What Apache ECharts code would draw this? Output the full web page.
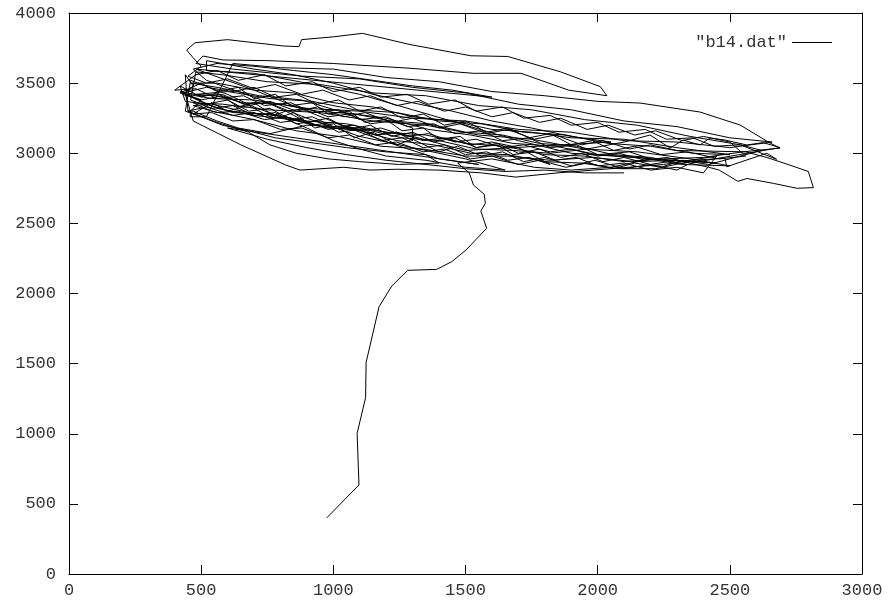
<!DOCTYPE html>
<html>
<head>
    <meta charset="utf-8">
    <title>b14.dat</title>
    <script src="https://cdn.jsdelivr.net/npm/echarts@6/dist/echarts.min.js"></script>
</head>
<body style="margin:0;background:#fff;">
    <div id="main" style="width: 890px;height:607px;"></div>
    <script type="text/javascript">
        // tick values of the two axes
        var xTicks = [0, 500, 1000, 1500, 2000, 2500, 3000];
        var yTicks = [0, 500, 1000, 1500, 2000, 2500, 3000, 3500, 4000];
        var seriesName = '"b14.dat"';

        // the track climbs up from the bottom...
        var tailPoints = [
            [975,400],[1097,635],[1090,1003],[1122,1257],[1124,1509],[1173,1906],[1221,2053],
            [1281,2165],[1391,2172],[1448,2227],[1502,2310],[1580,2465],[1558,2588],[1575,2643],
            [1571,2707],[1530,2774],[1514,2861]
        ];

        // ...then swings back and forth inside the band (roughly)
        var loopPoints = [
            [1470,2930],[1600,2960],[1760,2900],[1900,2880],[2050,2900],
            [2200,2960],[2120,3010],[2000,2990],[1920,3060],[1820,3040],[1740,3110],[1640,3090],[1560,3160],[1460,3140],[1380,3210],[1280,3190],[1200,3260],[1100,3240],[1020,3310],[920,3290],[840,3360],[740,3340],[660,3410],[560,3390],[480,3460],[400,3450],
            [480,3560],[560,3590],[640,3520],[740,3560],[820,3480],[920,3510],[1000,3440],[1100,3470],[1180,3400],[1280,3420],[1360,3350],[1460,3380],[1540,3300],[1640,3330],[1720,3250],[1820,3270],[1900,3200],[2000,3220],[2080,3150],[2180,3170],[2260,3100],[2360,3110],[2440,3050],[2540,3060],[2620,3020],
            [2500,2960],[2420,2920],[2320,2950],[2240,2900],[2140,2930],[2060,2890],[1960,2930],[1880,2900],[1780,2950],[1700,2920],[1600,2980],[1520,2960],[1420,3030],[1340,3010],[1240,3080],[1160,3060],[1060,3130],[980,3110],[880,3180],[800,3170],[700,3240],[620,3230],[540,3290],[470,3280],
            [540,3360],[600,3300],[680,3340],[760,3260],[820,3300],[900,3220],[980,3250],[1060,3170],[1140,3200],[1220,3120],[1300,3150],[1380,3080],[1460,3110],[1540,3040],[1620,3070],[1700,3000],[1780,3030],[1860,2970],[1940,3000],[2020,2940],[2100,2970],[2200,2920],[2300,2950],[2420,2900],
            [2460,2880],[2530,2800],[2565,2820],[2665,2785],[2755,2750],[2816,2755],[2797,2870],[2720,2920],[2640,2970],[2560,3010],
            [2300,3020],[2200,3060],[2120,3030],[2020,3090],[1940,3060],[1840,3130],[1760,3100],[1660,3170],[1580,3140],[1480,3210],[1400,3180],[1300,3250],[1220,3220],[1120,3290],[1040,3260],[940,3330],[860,3300],[760,3370],[680,3340],[580,3410],[500,3380],[430,3430],
            [520,3470],[620,3440],[700,3470],[780,3400],[860,3420],[940,3350],[1020,3380],[1100,3300],[1180,3330],[1260,3250],[1340,3280],[1420,3200],[1500,3230],[1580,3150],[1660,3180],[1740,3110],[1820,3140],[1900,3060],[1980,3090],[2060,3020],[2140,3050],[2240,2990],[2340,3010],[2460,2960],[2560,2980],
            [2500,3080],[2400,3120],[2320,3090],[2220,3160],[2140,3130],[2040,3200],[1960,3170],[1860,3250],[1780,3220],[1680,3290],[1600,3260],[1500,3330],[1420,3300],[1320,3370],[1240,3340],[1140,3410],[1060,3380],[960,3450],[880,3420],[780,3490],[700,3460],[600,3530],[520,3500],[450,3550],
            [500,3620],[470,3680],[445,3736],[477,3788],[600,3810],[810,3765],[870,3760],[880,3810],[1000,3830],[1110,3855],[1290,3775],[1520,3695],[1660,3690],
            [1860,3580],[2010,3475],[2035,3410],[1890,3450],[1710,3570],[1530,3570],[1290,3606],[1000,3640],[760,3660],[583,3665],[507,3693],[480,3640],
            [620,3600],[880,3550],[1100,3530],[1300,3470],[1500,3430],[1700,3350],[1900,3310],[2100,3230],[2300,3190],[2500,3110],[2660,3080],
            [2500,3040],[2300,3080],[2100,3090],[1900,3150],[1700,3170],[1500,3230],[1300,3250],[1100,3300],[900,3320],[700,3380],[540,3390],[420,3430],
            [500,3500],[560,3440],[640,3470],[700,3390],[780,3420],[840,3340],[920,3360],[980,3280],[1060,3300],[1120,3220],[1200,3240],[1260,3160],[1340,3180],[1400,3100],[1480,3120],[1540,3040],[1620,3060],[1680,2990],[1760,3010],[1840,2950],[1920,2970],[2000,2910],[2100,2930],[2200,2880],[2300,2900],[2400,2860],
            [2450,2980],[2250,2920],[2050,2890],[1850,2860],[1690,2830],[1560,2860],[1400,2880],[1240,2886],[1139,2880],[1040,2900],[874,2880],[820,2916],[650,3060],[470,3230],
            [440,3420],[520,3350],[600,3380],[680,3300],[760,3320],[840,3240],[920,3260],[1000,3190],[1080,3200],[1160,3130],[1240,3150],[1300,3090],
            [1300,3180],[1220,3230],[1140,3210],[1060,3280],[980,3260],[900,3320],[820,3300],[740,3370],[660,3350],[580,3420],[500,3410],[420,3440],
            [560,3320],[700,3270],[840,3240],[980,3180],[1120,3170],[1260,3110],[1400,3090],[1540,3030],[1680,3020],[1820,3000],[1960,3030],[2100,3080],[2198,3130],[2274,3037],[2323,3094],[2387,3059],[2425,3109],[2482,3094],[2564,3059],[2626,3076],[2690,3040],
            [2350,2930],[2260,2970],[2180,2950],[2080,3000],[2000,2980],[1900,3030],[1820,3010],[1720,3060],[1640,3040],[1540,3100],[1460,3080],[1360,3140],[1280,3120],[1180,3180],[1100,3160],[1000,3220],[920,3200],[820,3260],[740,3240],[640,3300],[560,3290],[470,3340],
            [540,3350],[680,3290],[820,3260],[960,3190],[1100,3160],[1240,3090],[1380,3060],[1520,3000],[1660,2990],[1800,2940],[1940,2930],[2080,2890],[2220,2890],[2375,2952],[2482,2964],[2488,2904],[2640,3000],[2677,2957],
            [2540,3060],[2350,3120],[2150,3200],[1950,3240],[1750,3310],[1550,3340],[1350,3410],[1150,3430],[950,3490],[750,3510],[580,3560],[480,3580],
            [460,3380],[540,3320],[620,3340],[700,3270],[780,3290],[860,3210],[940,3230],[1020,3150],[1100,3170],[1180,3090],[1260,3110],[1340,3040],[1420,3060],[1500,2990],[1580,3010],[1660,2950],[1740,2970],[1820,2920],
            [1700,3040],[1600,3080],[1520,3060],[1420,3110],[1340,3090],[1240,3150],[1160,3130],[1060,3190],[980,3170],[880,3240],[800,3220],[700,3290],[620,3270],[520,3330],[450,3300],
            [440,3560],[470,3480],[430,3420],[500,3380],[460,3300],[458,3260],[520,3260],
            [620,3640],[800,3610],[1000,3600],[1200,3540],[1400,3510],[1600,3440],[1800,3410],[2000,3370],[2160,3358],[2387,3294],[2539,3201],[2652,3073],[2690,3037],
            [2550,3010],[2400,2970],[2250,2960],[2100,2940],[1950,2980],[1800,2990],[1650,3050],[1500,3070],[1350,3130],[1200,3150],[1050,3210],[900,3230],[750,3280],[620,3290],[520,3350],[440,3370],
            [420,3480],[500,3400],[560,3430],[640,3330],[700,3360],[790,3250],[850,3290],[930,3180],[1000,3210],[1080,3110],[1150,3150],[1240,3060],[1300,3100],[1400,3010],[1470,3050],[1560,2980],[1640,3010],[1720,2940],[1800,2970],[1900,2910],[1990,2950],[2100,2890],[2200,2920],[2300,2880],
            [2340,2920],[2200,2970],[2060,2990],[1920,3050],[1780,3070],[1640,3130],[1500,3150],[1360,3210],[1220,3230],[1080,3280],[940,3300],[800,3350],[660,3360],[560,3410],[480,3420],
            [600,3440],[760,3390],[920,3370],[1080,3310],[1240,3290],[1400,3230],[1560,3210],[1720,3150],[1880,3130],[2040,3070],[2200,3050],[2360,3000],[2500,2990],
            [2300,3040],[2100,3100],[1900,3110],[1750,3150],[1600,3170],[1450,3230],[1300,3260],[1150,3330],[1000,3360],[850,3430],[700,3450],[560,3500],[460,3500],
            [560,3470],[720,3410],[880,3380],[1040,3290],[1200,3250],[1360,3170],[1520,3130],[1680,3070],[1840,3050],[2000,2990],[2160,2970],[2320,2920],[2500,2910],
            [2350,2960],[2150,3010],[1950,3030],[1750,3100],[1550,3130],[1350,3200],[1150,3230],[950,3290],[750,3310],[580,3350],[470,3360],
            [540,3300],[700,3240],[860,3160],[1020,3120],[1180,3050],[1340,3030],[1500,2980],[1660,2980],[1820,2950],[1980,2970],[2140,2940],[2300,2950],[2450,2930],
            [1900,3000],[1700,3090],[1500,3200],[1300,3310],[1100,3420],[900,3500],[700,3570],[520,3590],
            [520,3660],[700,3600],[850,3560],[1000,3500],[1150,3420],[1300,3360],[1450,3300],[1600,3230],[1750,3180],[1900,3120],[2050,3080],
            [1500,3020],[1300,3120],[1100,3180],[900,3200],[760,3140],[640,3180],[560,3230],[470,3300],
            [450,3300],[560,3220],[680,3150],[760,3060],[860,3000],[980,2960],[1100,2940],[1250,2920],[1400,2930],
            [1350,2990],[1200,3010],[1050,3040],[900,3080],[780,3110],[680,3160],[580,3200],[500,3260],[440,3300],
            [460,3520],[600,3420],[700,3330],[800,3260],[900,3180],[1000,3090],[1100,3030],[1200,2980],[1350,2950],[1500,2900],[1650,2880],
            [1500,2960],[1300,3040],[1100,3120],[900,3250],[700,3400],[520,3520],
            [470,3600],[560,3640],[700,3620],[850,3590],[1000,3560],[1150,3520],[1300,3480],[1450,3450],[1600,3400],
            [480,3600],[700,3450],[900,3300],[1100,3150],[1250,3050],[1400,2960],[1550,2920],
            [600,3180],[750,3100],[900,3040],[1050,2990],[1200,2950],[1350,2920],[1500,2890],[1650,2870],[1800,2880],[1950,2860],[2100,2860]
        ];

        var dom = document.getElementById('main');
        var myChart = echarts.init(dom);

        var labelFont = {
            fontFamily: '"Liberation Mono", "DejaVu Sans Mono", monospace',
            fontSize: 17,
            color: '#333'
        };

        function makeAxis(ticks, pos, showLabel) {
            return {
                type: 'value',
                position: pos,
                min: ticks[0],
                max: ticks[ticks.length - 1],
                interval: ticks[1] - ticks[0],
                axisLine: { show: true, onZero: false, lineStyle: { color: '#000', width: 1 } },
                axisTick: { show: true, inside: true, length: 9, lineStyle: { color: '#000', width: 1 } },
                splitLine: { show: false },
                axisLabel: Object.assign({
                    show: showLabel,
                    margin: pos === 'left' ? 13 : 8,
                    formatter: function (v) { return String(v); }
                }, labelFont)
            };
        }

        var option = {
            animation: false,
            backgroundColor: '#fff',
            grid: { left: 69, top: 13, right: 28, bottom: 33 },
            legend: {
                right: 53,
                top: 29,
                align: 'right',
                icon: 'rect',
                itemWidth: 40,
                itemHeight: 1,
                itemGap: 10,
                textStyle: labelFont,
                data: [seriesName]
            },
            xAxis: [makeAxis(xTicks, 'bottom', true), makeAxis(xTicks, 'top', false)],
            yAxis: [makeAxis(yTicks, 'left', true), makeAxis(yTicks, 'right', false)],
            series: [{
                name: seriesName,
                type: 'line',
                xAxisIndex: 0,
                yAxisIndex: 0,
                symbol: 'none',
                showSymbol: false,
                lineStyle: { color: '#000', width: 1 },
                itemStyle: { color: '#000' },
                data: tailPoints.concat(loopPoints)
            }]
        };

        myChart.setOption(option);
    </script>
</body>
</html>
